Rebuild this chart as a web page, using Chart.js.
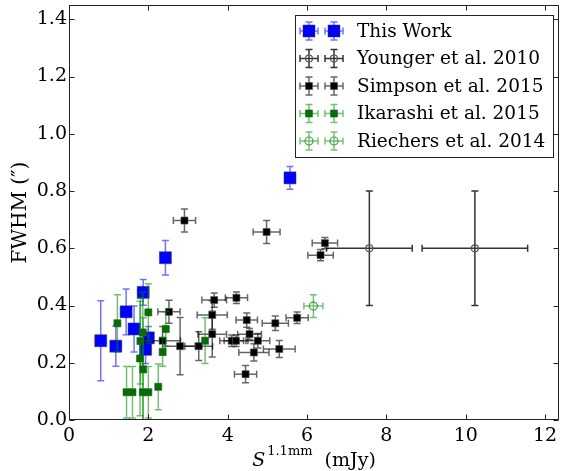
<!DOCTYPE html>
<html>
<head>
<meta charset="utf-8">
<script src="https://cdn.jsdelivr.net/npm/chart.js@4.4.0/dist/chart.umd.min.js"></script>
<style>
  body { margin: 0; background: #fff; }
</style>
</head>
<body>
<canvas id="chart" width="561" height="471"></canvas>
<script>
// eixos
var xTicks = [0, 2, 4, 6, 8, 10, 12];
var yTicks = [0, 0.2, 0.4, 0.6, 0.8, 1.0, 1.2, 1.4];

// This Work
var thisX    = [0.80, 1.18, 1.44, 1.64, 1.87, 2.00, 1.93, 2.43, 5.57];
var thisY    = [0.277, 0.258, 0.378, 0.318, 0.446, 0.287, 0.247, 0.567, 0.846];
var thisXerr = [0.12, 0.12, 0.12, 0.12, 0.12, 0.12, 0.12, 0.12, 0.12];
var thisYerr = [0.14, 0.07, 0.08, 0.08, 0.045, 0.04, 0.05, 0.06, 0.04];

// Younger et al. 2010
var youngX    = [7.57, 10.23];
var youngY    = [0.60, 0.60];
var youngXerr = [1.08, 1.33];
var youngYerr = [0.20, 0.20];

// Simpson et al. 2015
var simpX    = [2.91, 2.52, 2.36, 2.80, 3.27, 3.61, 3.66, 3.61, 4.22, 4.48, 4.55, 4.10, 4.21, 4.76, 4.66, 4.45, 5.20, 5.30, 5.75, 4.98, 6.45, 6.34];
var simpY    = [0.697, 0.378, 0.277, 0.258, 0.258, 0.367, 0.419, 0.300, 0.427, 0.349, 0.300, 0.277, 0.277, 0.277, 0.236, 0.160, 0.338, 0.248, 0.357, 0.657, 0.618, 0.576];
var simpXerr = [0.28, 0.28, 0.45, 0.38, 0.35, 0.38, 0.31, 0.36, 0.28, 0.27, 0.30, 0.30, 0.30, 0.30, 0.38, 0.28, 0.33, 0.40, 0.28, 0.34, 0.32, 0.32];
var simpYerr = [0.04, 0.04, 0.05, 0.10, 0.05, 0.05, 0.025, 0.08, 0.02, 0.025, 0.02, 0.02, 0.02, 0.025, 0.03, 0.03, 0.025, 0.03, 0.02, 0.04, 0.02, 0.02];

// Ikarashi et al. 2015
var ikaX    = [1.22, 2.00, 1.86, 1.80, 1.79, 1.87, 2.44, 2.36, 2.25, 1.45, 1.60, 1.86, 2.00, 3.43];
var ikaY    = [0.338, 0.376, 0.306, 0.276, 0.215, 0.177, 0.318, 0.238, 0.116, 0.097, 0.097, 0.097, 0.097, 0.277];
var ikaXerr = [0.05, 0.05, 0.05, 0.05, 0.05, 0.05, 0.05, 0.05, 0.05, 0.05, 0.05, 0.05, 0.05, 0.05];
var ikaYerr = [0.10, 0.10, 0.14, 0.15, 0.20, 0.18, 0.06, 0.05, 0.08, 0.09, 0.09, 0.10, 0.09, 0.08];

// Riechers et al. 2014
var riechX    = [6.16];
var riechY    = [0.398];
var riechXerr = [0.24];
var riechYerr = [0.04];

var fonte = "'DejaVu Serif', serif";

function pontos(xs, ys, xe, ye) {
  var lista = [];
  for (var i = 0; i < xs.length; i++) {
    lista.push({ x: xs[i], y: ys[i], xerr: xe[i], yerr: ye[i] });
  }
  return lista;
}

// series: estilo do marcador e das barras de erro
var series = [
  { label: "This Work", data: pontos(thisX, thisY, thisXerr, thisYerr),
    pointStyle: "rect", pointRadius: 8.5, backgroundColor: "#0000ff", borderColor: "rgba(60,60,60,0.5)", borderWidth: 1,
    errColor: "rgba(40,40,255,0.65)", order: 5 },
  { label: "Younger et al. 2010", data: pontos(youngX, youngY, youngXerr, youngYerr),
    pointStyle: "circle", pointRadius: 3.5, backgroundColor: "rgba(255,255,255,0)", borderColor: "#555", borderWidth: 1.2,
    errColor: "rgba(0,0,0,0.8)", order: 4 },
  { label: "Simpson et al. 2015", data: pontos(simpX, simpY, simpXerr, simpYerr),
    pointStyle: "rect", pointRadius: 5, backgroundColor: "#000", borderColor: "rgba(90,90,90,0.6)", borderWidth: 1,
    errColor: "rgba(0,0,0,0.6)", order: 3 },
  { label: "Ikarashi et al. 2015", data: pontos(ikaX, ikaY, ikaXerr, ikaYerr),
    pointStyle: "rect", pointRadius: 5, backgroundColor: "#007000", borderColor: "rgba(60,90,60,0.6)", borderWidth: 1,
    errColor: "rgba(0,140,0,0.55)", order: 2 },
  { label: "Riechers et al. 2014", data: pontos(riechX, riechY, riechXerr, riechYerr),
    pointStyle: "circle", pointRadius: 4, backgroundColor: "rgba(255,255,255,0)", borderColor: "#3aa53a", borderWidth: 1.2,
    errColor: "rgba(60,170,60,0.7)", order: 1 }
];

function desenhaBarra(ctx, px, py, x0, x1, y0, y1, cap) {
  ctx.beginPath();
  ctx.moveTo(x0, py); ctx.lineTo(x1, py);
  ctx.moveTo(px, y0); ctx.lineTo(px, y1);
  ctx.moveTo(x0, py - cap); ctx.lineTo(x0, py + cap);
  ctx.moveTo(x1, py - cap); ctx.lineTo(x1, py + cap);
  ctx.moveTo(px - cap, y0); ctx.lineTo(px + cap, y0);
  ctx.moveTo(px - cap, y1); ctx.lineTo(px + cap, y1);
  ctx.stroke();
}

// barras de erro desenhadas antes de cada conjunto
var errorBars = {
  id: "errorBars",
  beforeDatasetDraw: function (chart, args) {
    var ds = chart.data.datasets[args.index];
    var sx = chart.scales.x, sy = chart.scales.y, a = chart.chartArea;
    var ctx = chart.ctx;
    ctx.save();
    ctx.beginPath();
    ctx.rect(a.left, a.top, a.right - a.left, a.bottom - a.top);
    ctx.clip();
    ctx.strokeStyle = ds.errColor;
    ctx.lineWidth = 1.5;
    ds.data.forEach(function (p) {
      desenhaBarra(ctx,
        sx.getPixelForValue(p.x), sy.getPixelForValue(p.y),
        sx.getPixelForValue(p.x - p.xerr), sx.getPixelForValue(p.x + p.xerr),
        sy.getPixelForValue(p.y - p.yerr), sy.getPixelForValue(p.y + p.yerr), 3.5);
    });
    ctx.restore();
  }
};

// moldura, ticks para dentro, titulos e legenda
var moldura = {
  id: "moldura",
  afterDraw: function (chart) {
    var ctx = chart.ctx, a = chart.chartArea;
    var sx = chart.scales.x, sy = chart.scales.y;
    ctx.save();
    ctx.strokeStyle = "#222";
    ctx.lineWidth = 1;
    var L = Math.round(a.left) + 0.5, R = Math.round(a.right) - 0.5;
    var T = Math.round(a.top) + 0.5, B = Math.round(a.bottom) - 0.5;
    ctx.strokeRect(L, T, R - L, B - T);
    ctx.beginPath();
    xTicks.forEach(function (v) {
      var p = Math.round(sx.getPixelForValue(v)) + 0.5;
      ctx.moveTo(p, B); ctx.lineTo(p, B - 5);
      ctx.moveTo(p, T); ctx.lineTo(p, T + 5);
    });
    yTicks.forEach(function (v) {
      var p = Math.round(sy.getPixelForValue(v)) + 0.5;
      ctx.moveTo(L, p); ctx.lineTo(L + 5, p);
      ctx.moveTo(R, p); ctx.lineTo(R - 5, p);
    });
    ctx.stroke();

    // titulo do eixo x: S^1.1mm (mJy)
    ctx.fillStyle = "#000";
    ctx.textBaseline = "alphabetic";
    var cx = (a.left + a.right) / 2;
    ctx.font = "italic 19px " + fonte;
    var wS = ctx.measureText("S").width;
    ctx.font = "13px " + fonte;
    var wSup = ctx.measureText("1.1mm").width;
    ctx.font = "19px " + fonte;
    var wR = ctx.measureText("  (mJy)").width;
    var x0 = cx - (wS + 2 + wSup + wR) / 2;
    ctx.font = "italic 19px " + fonte;
    ctx.fillText("S", x0, 466);
    ctx.font = "13px " + fonte;
    ctx.fillText("1.1mm", x0 + wS + 2, 455);
    ctx.font = "19px " + fonte;
    ctx.fillText("  (mJy)", x0 + wS + 2 + wSup, 466);

    // titulo do eixo y
    ctx.save();
    ctx.translate(21, (a.top + a.bottom) / 2);
    ctx.rotate(-Math.PI / 2);
    ctx.textAlign = "center";
    ctx.textBaseline = "middle";
    ctx.font = "20px " + fonte;
    ctx.fillText("FWHM (\u2033)", 0, 0);
    ctx.restore();

    // legenda
    var bx = 295.5, by = 15.5, bw = 258, bh = 142;
    ctx.fillStyle = "#fff";
    ctx.fillRect(bx, by, bw, bh);
    ctx.strokeStyle = "#222";
    ctx.strokeRect(bx, by, bw, bh);
    ctx.font = "18.5px " + fonte;
    ctx.textAlign = "left";
    ctx.textBaseline = "middle";
    series.forEach(function (s, i) {
      var yy = 31 + i * 27.5;
      [309, 334].forEach(function (xx) {
        ctx.strokeStyle = s.errColor;
        ctx.lineWidth = 1.5;
        desenhaBarra(ctx, xx, yy, xx - 9, xx + 9, yy - 9, yy + 9, 3.5);
        ctx.fillStyle = s.backgroundColor;
        ctx.strokeStyle = s.borderColor;
        ctx.lineWidth = s.borderWidth;
        Chart.helpers.drawPoint(ctx, { pointStyle: s.pointStyle, radius: s.pointRadius, rotation: 0, borderWidth: s.borderWidth }, xx, yy);
      });
      ctx.fillStyle = "#000";
      ctx.fillText(s.label, 357, yy + 1);
    });
    ctx.restore();
  }
};

function semPadding(s) {
  s.paddingLeft = 0; s.paddingRight = 0; s.paddingTop = 0; s.paddingBottom = 0;
}

var ctx = document.getElementById("chart").getContext("2d");
var grafico = new Chart(ctx, {
  type: "scatter",
  data: { datasets: series },
  options: {
    responsive: false,
    animation: false,
    layout: { autoPadding: false, padding: { left: 0, top: 5, right: 2, bottom: 0 } },
    plugins: { legend: { display: false }, tooltip: { enabled: false } },
    scales: {
      x: {
        type: "linear", min: 0, max: 12.35,
        grid: { display: false, drawTicks: false },
        border: { display: false },
        afterBuildTicks: function (s) { s.ticks = xTicks.map(function (v) { return { value: v }; }); },
        afterFit: function (s) { s.height = 51; semPadding(s); },
        ticks: { color: "#000", padding: 5, font: { family: fonte, size: 19 }, maxRotation: 0,
          callback: function (v) { return String(v); } }
      },
      y: {
        type: "linear", min: 0, max: 1.45,
        grid: { display: false, drawTicks: false },
        border: { display: false },
        afterBuildTicks: function (s) { s.ticks = yTicks.map(function (v) { return { value: v }; }); },
        afterFit: function (s) { s.width = 69; semPadding(s); },
        ticks: { color: "#000", padding: 2, font: { family: fonte, size: 19 },
          callback: function (v) { return v.toFixed(1); } }
      }
    }
  },
  plugins: [errorBars, moldura]
});
</script>
</body>
</html>
